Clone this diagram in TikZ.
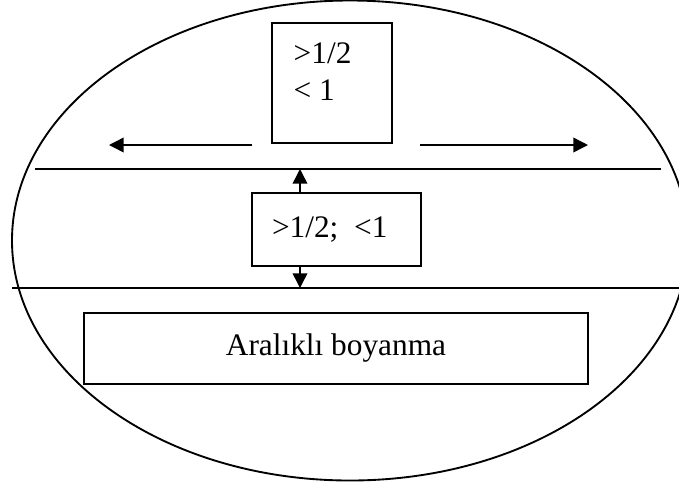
\documentclass[tikz,border=0pt]{standalone}
\usepackage{fontspec}
\setmainfont{Liberation Serif}
\usetikzlibrary{arrows.meta,positioning}
\begin{document}
\begin{tikzpicture}[x=0.75pt,y=-0.75pt,line width=1.1pt,box/.style={draw,inner sep=0pt,font=\fontsize{23.5}{27.75}\selectfont},a/.style={-{Triangle[length=11pt,width=11pt]}}]
\useasboundingbox (0,0) rectangle (679,487);
\clip (0,0) rectangle (679,487);
\draw[line width=1.4pt] (350,240.5) ellipse [x radius=338,y radius=240];
\node[box,minimum width=90pt,minimum height=90pt] (top) at (332,83) {};
\node[anchor=base west,align=left,inner sep=0pt,font=\fontsize{23.5}{27.75}\selectfont] (ratio) at (293,100) {>1/2\\< 1};
\coordinate (lstart) at (252,145); \coordinate (lend) at (109,145);
\coordinate (rstart) at (420,145); \coordinate (rend) at (588,145);
\draw[a] (lstart)--(lend); \draw[a] (rstart)--(rend);
\coordinate (l1w) at (35,169); \coordinate (l1e) at (661,169);
\coordinate (l2w) at (12,288); \coordinate (l2e) at (690,288);
\draw (l1w)--(l1e); \draw (l2w)--(l2e);
\node[box,minimum width=126.75pt,minimum height=54.75pt,text width=96.75pt,inner xsep=15pt,align=left] (mid) at (336.5,229.5) {>1/2;\hspace{0.5em}<1};
\coordinate (upend) at (300,169); \coordinate (dnend) at (300,288);
\draw[a] (mid.north -| upend)--(upend); \draw[a] (mid.south -| dnend)--(dnend);
\node[box,minimum width=378pt,minimum height=53.25pt] (paint) at (336,348.5) {Aralıklı boyanma};
\end{tikzpicture}
\end{document}
